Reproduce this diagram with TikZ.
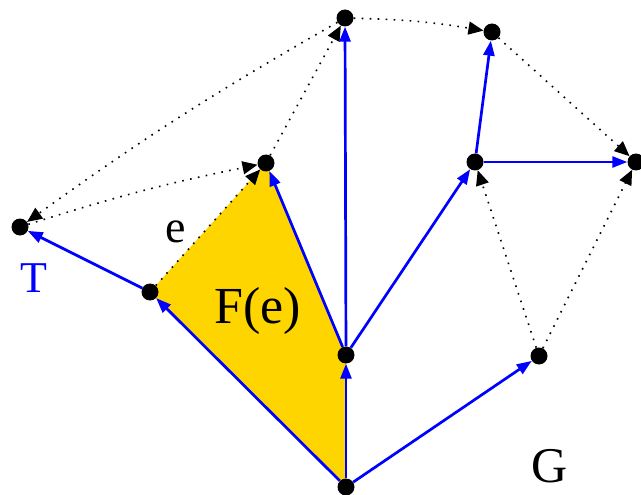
\documentclass[tikz,border=0pt]{standalone}
\usepackage{fontspec}
\setmainfont{Liberation Serif}
\usetikzlibrary{arrows.meta}
\begin{document}
\begin{tikzpicture}[x=1pt,y=1pt,
  vtx/.style={circle,fill=black,inner sep=0pt,minimum size=17pt},
  tree/.style={draw=blue,line width=2.7pt,-{Triangle[length=15pt,width=11pt,fill=blue]}},
  dual/.style={draw=black,line width=1.6pt,dash pattern=on 1.6pt off 6.4pt,-{Triangle[length=15pt,width=13pt,fill=black]}},
  lbl/.style={inner sep=0pt}]
\useasboundingbox (0,0) rectangle (641,-495);
\coordinate (a) at (345,-18);
\coordinate (b) at (492,-32);
\coordinate (c) at (636,-162);
\coordinate (d) at (475,-162);
\coordinate (e) at (266,-163);
\coordinate (f) at (20,-227);
\coordinate (g) at (150,-292);
\coordinate (h) at (346,-355);
\coordinate (i) at (539,-356);
\coordinate (j) at (346,-487);
\fill[fill={rgb,255:red,255;green,213;blue,0}] (g) -- (e) -- (h) -- (j) -- cycle;
\node[vtx] (A) at (a) {};
\node[vtx] (B) at (b) {};
\node[vtx] (C) at (c) {};
\node[vtx] (D) at (d) {};
\node[vtx] (E) at (e) {};
\node[vtx] (F) at (f) {};
\node[vtx] (G) at (g) {};
\node[vtx] (H) at (h) {};
\node[vtx] (I) at (i) {};
\node[vtx] (J) at (j) {};
% tree edges
\draw[tree] (J) -- (H);
\draw[tree] (J) -- (G);
\draw[tree] (J) -- (I);
\draw[tree] (H) -- (A);
\draw[tree] (H) -- (E);
\draw[tree] (H) -- (D);
\draw[tree] (D) -- (B);
\draw[tree] (D) -- (C);
\draw[tree] (G) -- (F);
% dual edges
\draw[dual] (A) to[bend right=3] (F);
\draw[dual] (F) to[bend left=3] (E);
\draw[dual] (G) -- (E);
\draw[dual] (E) -- (A);
\draw[dual] (A) to[bend left=4] (B);
\draw[dual] (B) -- (C);
\draw[dual] (I) -- (D);
\draw[dual] (I) -- (C);
% labels
\node[lbl,font=\fontsize{46}{50}\selectfont] (le) at (176,-232) {e};
\node[lbl,font=\fontsize{52}{56}\selectfont] (lF) at (258,-311) {F(e)};
\node[lbl,font=\fontsize{44}{48}\selectfont,text=blue] (lT) at (34,-278) {T};
\node[lbl,font=\fontsize{50}{54}\selectfont] (lG) at (550,-466) {G};
\end{tikzpicture}
\end{document}
